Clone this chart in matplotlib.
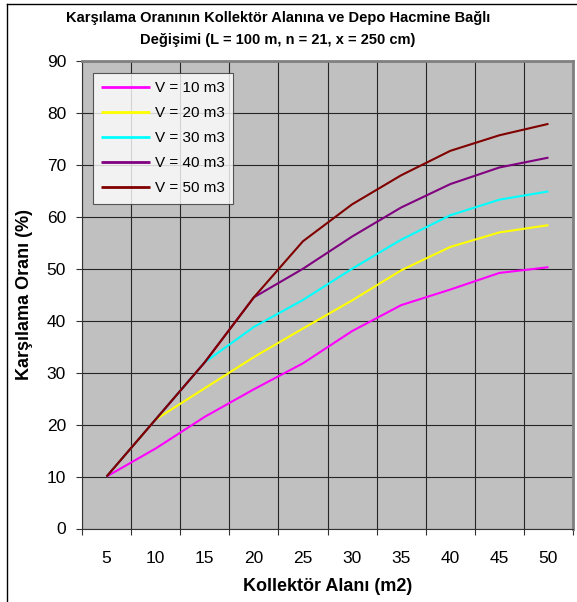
import numpy as np
import matplotlib
matplotlib.use("Agg")
import matplotlib.pyplot as plt
from matplotlib.lines import Line2D

plt.rcParams["font.family"] = ["Liberation Sans", "DejaVu Sans"]

# data
areas = ["5", "10", "15", "20", "25", "30", "35", "40", "45", "50"]
v10 = [10, 15.4, 21.5, 26.8, 31.8, 38.0, 43.0, 46.0, 49.2, 50.3]
v20 = [10, 21.0, 27.0, 33.0, 38.5, 43.9, 49.7, 54.2, 57.0, 58.4]
v30 = [10, 21.0, 32.0, 38.8, 44.0, 50.0, 55.6, 60.3, 63.3, 64.9]
v40 = [10, 21.0, 32.0, 44.5, 50.0, 56.2, 61.8, 66.3, 69.5, 71.4]
v50 = [10, 21.0, 32.0, 44.5, 55.3, 62.4, 68.0, 72.7, 75.7, 77.9]
series = [v10, v20, v30, v40, v50]
labels = ["V = 10 m3", "V = 20 m3", "V = 30 m3", "V = 40 m3", "V = 50 m3"]
colors = ["#FF00FF", "#FFFF00", "#00FFFF", "#800080", "#800000"]

W, H = 577, 602
fig = plt.figure(figsize=(W / 100, H / 100), dpi=100)
ax = fig.add_axes([82 / W, 1 - 528.5 / H, (573 - 82) / W, (528.5 - 61) / H])
ax.set_facecolor("#C0C0C0")

x = np.arange(len(areas))
for vals, lab, col in zip(series, labels, colors):
    ax.plot(x, vals, color=col, lw=1.5, label=lab, solid_capstyle="butt", zorder=3)

ax.set_xlim(-0.5, len(areas) - 0.5)
ax.set_ylim(0, 90)
ax.set_yticks(np.arange(0, 91, 10))
ax.set_xticks(np.arange(-0.5, len(areas), 1.0))
ax.set_xticklabels([])
ax.set_xticks(x, minor=True)
ax.set_xticklabels(areas, minor=True)
ax.tick_params(axis="x", which="major", direction="out", length=4, width=0.8, color="#333333")
ax.tick_params(axis="x", which="minor", length=0, pad=16, labelsize=12.5)
ax.tick_params(axis="y", direction="out", length=4.5, width=0.8, color="#333333", pad=7, labelsize=12.5)
ax.grid(True, which="major", color="#262626", lw=0.8, zorder=1)
ax.set_axisbelow(True)

for side in ("left", "bottom"):
    ax.spines[side].set_color("#333333")
    ax.spines[side].set_linewidth(0.8)
for side in ("top", "right"):
    ax.spines[side].set_color("#808080")
    ax.spines[side].set_linewidth(2.0)

ax.set_xlabel("Kollektör Alanı (m2)", fontsize=13, fontweight="bold", labelpad=9)
ax.set_ylabel("Karşılama Oranı (%)", fontsize=13, fontweight="bold", labelpad=10)

leg = ax.legend(loc="upper left", bbox_to_anchor=((93 - 82) / (573 - 82), 1 - (73 - 61) / (528.5 - 61)),
                fontsize=11, frameon=True, fancybox=False, handlelength=3.2,
                handletextpad=0.3, labelspacing=0.72, borderpad=0.55, borderaxespad=0)
leg.get_frame().set_edgecolor("#333333")
leg.get_frame().set_linewidth(0.8)
for h in leg.get_lines():
    h.set_linewidth(2.0)

fig.text(278 / W, 1 - 18 / H, "Karşılama Oranının Kollektör Alanına ve Depo Hacmine Bağlı",
         ha="center", va="center", fontsize=10.5, fontweight="bold")
fig.text(278 / W, 1 - 40 / H, "Değişimi (L = 100 m, n = 21, x = 250 cm)",
         ha="center", va="center", fontsize=10.5, fontweight="bold")

# outer chart frame
fig.add_artist(Line2D([7 / W, 7 / W], [0, 1 - 4 / H], transform=fig.transFigure, color="black", lw=1.0))
fig.add_artist(Line2D([7 / W, 576 / W], [1 - 4 / H, 1 - 4 / H], transform=fig.transFigure, color="black", lw=1.0))

fig.savefig("out.png", dpi=100)
